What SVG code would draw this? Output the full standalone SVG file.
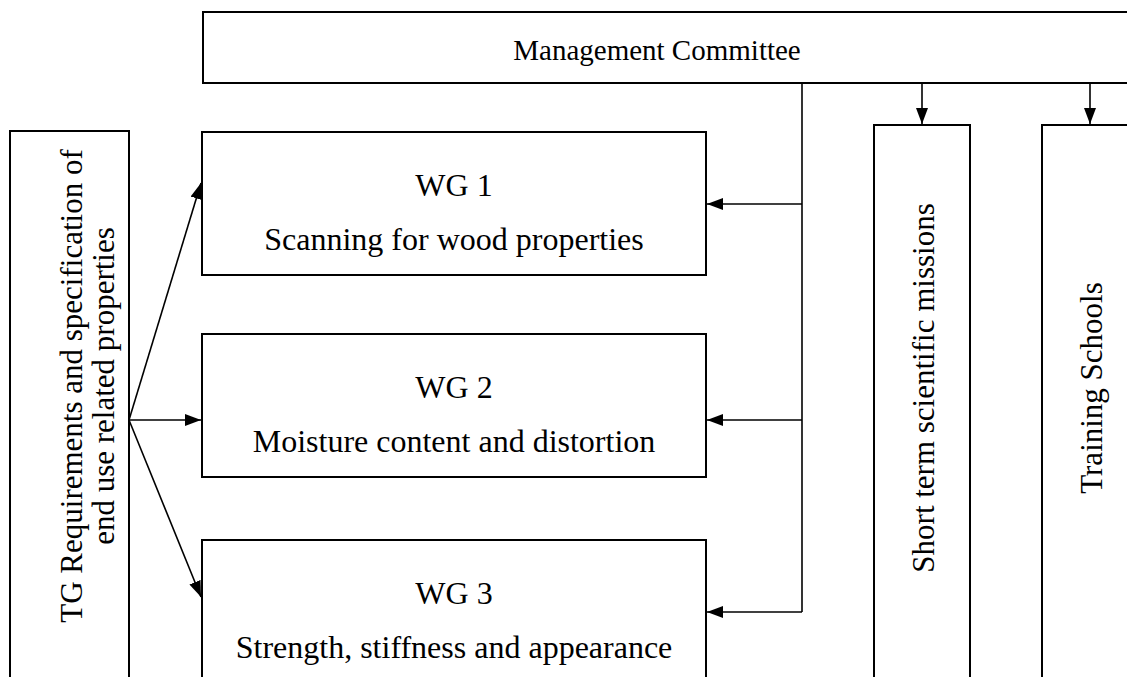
<svg xmlns="http://www.w3.org/2000/svg" width="1127" height="677" viewBox="0 0 1127 677">
  <style>
    .box { fill: #ffffff; stroke: #000000; stroke-width: 2; }
    .t { font-family: "Liberation Serif", "Times New Roman", serif; fill: #000000; text-anchor: middle; }
    .wg { font-size: 32px; }
    .mc { font-size: 29px; }
    .rot { font-size: 31px; }
    .conn { stroke: #000000; stroke-width: 1.6; fill: none; }
  </style>
  <defs>
    <marker id="arr" viewBox="0 0 16 12" refX="16" refY="6" markerWidth="16" markerHeight="12" markerUnits="userSpaceOnUse" orient="auto">
      <path d="M0,0 L16,6 L0,12 Z" fill="#000000"/>
    </marker>
  </defs>
  <rect width="1127" height="677" fill="#ffffff"/>

  <g id="management-committee">
    <rect class="box" x="203" y="12" width="940" height="71"/>
    <text class="t mc" x="657" y="60">Management Committee</text>
  </g>

  <g id="tg">
    <rect class="box" x="10" y="131" width="119" height="560"/>
    <text class="t rot" transform="translate(82,386) rotate(-90)" x="0" y="0">TG Requirements and specification of</text>
    <text class="t rot" transform="translate(114,386) rotate(-90)" x="0" y="0">end use related properties</text>
  </g>

  <g id="wg1">
    <rect class="box" x="202" y="132" width="504" height="143"/>
    <text class="t wg" x="454" y="196">WG 1</text>
    <text class="t wg" x="454" y="250">Scanning for wood properties</text>
  </g>

  <g id="wg2">
    <rect class="box" x="202" y="334" width="504" height="143"/>
    <text class="t wg" x="454" y="398">WG 2</text>
    <text class="t wg" x="454" y="452">Moisture content and distortion</text>
  </g>

  <g id="wg3">
    <rect class="box" x="202" y="540" width="504" height="150"/>
    <text class="t wg" x="454" y="604">WG 3</text>
    <text class="t wg" x="454" y="658">Strength, stiffness and appearance</text>
  </g>

  <g id="stsm">
    <rect class="box" x="874" y="125" width="96" height="570"/>
    <text class="t rot" transform="translate(934,388) rotate(-90)" x="0" y="0">Short term scientific missions</text>
  </g>

  <g id="training">
    <rect class="box" x="1042" y="125" width="100" height="570"/>
    <text class="t rot" transform="translate(1102,388) rotate(-90)" x="0" y="0">Training Schools</text>
  </g>

  <g id="connectors">
    <line class="conn" x1="922" y1="83" x2="922" y2="124" marker-end="url(#arr)"/>
    <line class="conn" x1="1090" y1="83" x2="1090" y2="124" marker-end="url(#arr)"/>
    <polyline class="conn" points="802,83 802,612"/>
    <line class="conn" x1="802" y1="204" x2="707" y2="204" marker-end="url(#arr)"/>
    <line class="conn" x1="802" y1="420" x2="707" y2="420" marker-end="url(#arr)"/>
    <line class="conn" x1="802" y1="612" x2="707" y2="612" marker-end="url(#arr)"/>
    <line class="conn" x1="129" y1="420" x2="201" y2="183" marker-end="url(#arr)"/>
    <line class="conn" x1="129" y1="420" x2="201" y2="420" marker-end="url(#arr)"/>
    <line class="conn" x1="129" y1="420" x2="201" y2="597" marker-end="url(#arr)"/>
  </g>
</svg>
